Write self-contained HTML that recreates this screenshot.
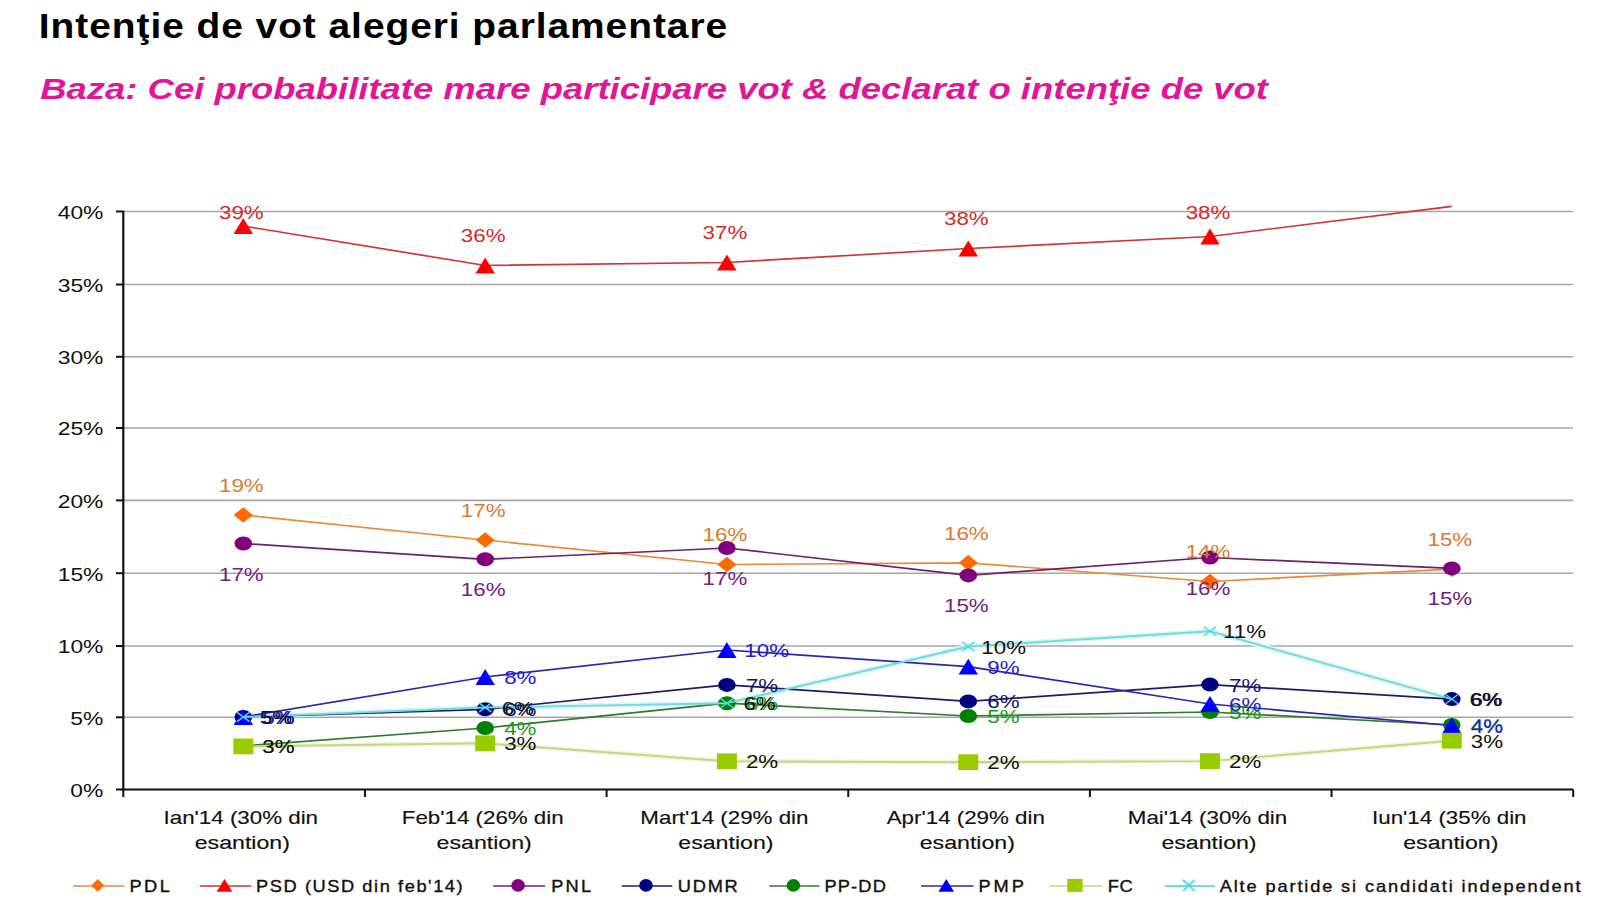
<!DOCTYPE html>
<html><head><meta charset="utf-8"><title>Intenţie de vot alegeri parlamentare</title>
<style>
html,body{margin:0;padding:0;background:#fff;}
body{width:1600px;height:900px;overflow:hidden;}
svg{display:block;font-family:'Liberation Sans', Arial, sans-serif;}
</style></head><body>
<svg width="1600" height="900" viewBox="0 0 1600 900">
<rect width="1600" height="900" fill="#fff"/>
<text transform="translate(38.80,38.40) scale(1.1340,1)" font-size="34.3" text-anchor="start" font-weight="bold" font-style="normal" fill="#000" textLength="607.0" lengthAdjust="spacing">Intenţie de vot alegeri parlamentare</text>
<text transform="translate(40.20,98.70) scale(1.2080,1)" font-size="30.2" text-anchor="start" font-weight="bold" font-style="italic" fill="#E01598">Baza: Cei probabilitate mare participare vot &amp; declarat o intenţie de vot</text>
<line x1="123.3" y1="717.30" x2="1573.2" y2="717.30" stroke="#a6a6a6" stroke-width="1.6"/>
<line x1="123.3" y1="646.00" x2="1573.2" y2="646.00" stroke="#a6a6a6" stroke-width="1.6"/>
<line x1="123.3" y1="573.20" x2="1573.2" y2="573.20" stroke="#a6a6a6" stroke-width="1.6"/>
<line x1="123.3" y1="500.40" x2="1573.2" y2="500.40" stroke="#a6a6a6" stroke-width="1.6"/>
<line x1="123.3" y1="428.00" x2="1573.2" y2="428.00" stroke="#a6a6a6" stroke-width="1.6"/>
<line x1="123.3" y1="356.80" x2="1573.2" y2="356.80" stroke="#a6a6a6" stroke-width="1.6"/>
<line x1="123.3" y1="284.50" x2="1573.2" y2="284.50" stroke="#a6a6a6" stroke-width="1.6"/>
<line x1="123.3" y1="211.50" x2="1573.2" y2="211.50" stroke="#a6a6a6" stroke-width="1.6"/>
<line x1="123.3" y1="210.7" x2="123.3" y2="790.5" stroke="#111" stroke-width="2.2"/>
<line x1="116" y1="789.50" x2="123.3" y2="789.50" stroke="#111" stroke-width="2"/>
<text transform="translate(103.40,796.90) scale(1.2700,1)" font-size="18" text-anchor="end" font-weight="normal" font-style="normal" fill="#111">0%</text>
<line x1="116" y1="717.30" x2="123.3" y2="717.30" stroke="#111" stroke-width="2"/>
<text transform="translate(103.40,724.70) scale(1.2700,1)" font-size="18" text-anchor="end" font-weight="normal" font-style="normal" fill="#111">5%</text>
<line x1="116" y1="646.00" x2="123.3" y2="646.00" stroke="#111" stroke-width="2"/>
<text transform="translate(103.40,653.40) scale(1.2700,1)" font-size="18" text-anchor="end" font-weight="normal" font-style="normal" fill="#111">10%</text>
<line x1="116" y1="573.20" x2="123.3" y2="573.20" stroke="#111" stroke-width="2"/>
<text transform="translate(103.40,580.60) scale(1.2700,1)" font-size="18" text-anchor="end" font-weight="normal" font-style="normal" fill="#111">15%</text>
<line x1="116" y1="500.40" x2="123.3" y2="500.40" stroke="#111" stroke-width="2"/>
<text transform="translate(103.40,507.80) scale(1.2700,1)" font-size="18" text-anchor="end" font-weight="normal" font-style="normal" fill="#111">20%</text>
<line x1="116" y1="428.00" x2="123.3" y2="428.00" stroke="#111" stroke-width="2"/>
<text transform="translate(103.40,435.40) scale(1.2700,1)" font-size="18" text-anchor="end" font-weight="normal" font-style="normal" fill="#111">25%</text>
<line x1="116" y1="356.80" x2="123.3" y2="356.80" stroke="#111" stroke-width="2"/>
<text transform="translate(103.40,364.20) scale(1.2700,1)" font-size="18" text-anchor="end" font-weight="normal" font-style="normal" fill="#111">30%</text>
<line x1="116" y1="284.50" x2="123.3" y2="284.50" stroke="#111" stroke-width="2"/>
<text transform="translate(103.40,291.90) scale(1.2700,1)" font-size="18" text-anchor="end" font-weight="normal" font-style="normal" fill="#111">35%</text>
<line x1="116" y1="211.50" x2="123.3" y2="211.50" stroke="#111" stroke-width="2"/>
<text transform="translate(103.40,218.90) scale(1.2700,1)" font-size="18" text-anchor="end" font-weight="normal" font-style="normal" fill="#111">40%</text>
<line x1="122.3" y1="789.5" x2="1573.2" y2="789.5" stroke="#111" stroke-width="2.2"/>
<line x1="123.30" y1="789.5" x2="123.30" y2="797" stroke="#111" stroke-width="2"/>
<line x1="364.95" y1="789.5" x2="364.95" y2="797" stroke="#111" stroke-width="2"/>
<line x1="606.60" y1="789.5" x2="606.60" y2="797" stroke="#111" stroke-width="2"/>
<line x1="848.25" y1="789.5" x2="848.25" y2="797" stroke="#111" stroke-width="2"/>
<line x1="1089.90" y1="789.5" x2="1089.90" y2="797" stroke="#111" stroke-width="2"/>
<line x1="1331.55" y1="789.5" x2="1331.55" y2="797" stroke="#111" stroke-width="2"/>
<line x1="1573.20" y1="789.5" x2="1573.20" y2="797" stroke="#111" stroke-width="2"/>
<text transform="translate(240.80,824.40) scale(1.2550,1)" font-size="17.8" text-anchor="middle" font-weight="normal" font-style="normal" fill="#111" stroke="#111" stroke-width="0.15">Ian&#x27;14 (30% din</text>
<text transform="translate(242.30,849.00) scale(1.3150,1)" font-size="17.6" text-anchor="middle" font-weight="normal" font-style="normal" fill="#111" stroke="#111" stroke-width="0.15">esantion)</text>
<text transform="translate(482.70,824.40) scale(1.2550,1)" font-size="17.8" text-anchor="middle" font-weight="normal" font-style="normal" fill="#111" stroke="#111" stroke-width="0.15">Feb&#x27;14 (26% din</text>
<text transform="translate(484.20,849.00) scale(1.3150,1)" font-size="17.6" text-anchor="middle" font-weight="normal" font-style="normal" fill="#111" stroke="#111" stroke-width="0.15">esantion)</text>
<text transform="translate(724.40,824.40) scale(1.2550,1)" font-size="17.8" text-anchor="middle" font-weight="normal" font-style="normal" fill="#111" stroke="#111" stroke-width="0.15">Mart&#x27;14 (29% din</text>
<text transform="translate(725.90,849.00) scale(1.3150,1)" font-size="17.6" text-anchor="middle" font-weight="normal" font-style="normal" fill="#111" stroke="#111" stroke-width="0.15">esantion)</text>
<text transform="translate(965.80,824.40) scale(1.2550,1)" font-size="17.8" text-anchor="middle" font-weight="normal" font-style="normal" fill="#111" stroke="#111" stroke-width="0.15">Apr&#x27;14 (29% din</text>
<text transform="translate(967.30,849.00) scale(1.3150,1)" font-size="17.6" text-anchor="middle" font-weight="normal" font-style="normal" fill="#111" stroke="#111" stroke-width="0.15">esantion)</text>
<text transform="translate(1207.50,824.40) scale(1.2550,1)" font-size="17.8" text-anchor="middle" font-weight="normal" font-style="normal" fill="#111" stroke="#111" stroke-width="0.15">Mai&#x27;14 (30% din</text>
<text transform="translate(1209.00,849.00) scale(1.3150,1)" font-size="17.6" text-anchor="middle" font-weight="normal" font-style="normal" fill="#111" stroke="#111" stroke-width="0.15">esantion)</text>
<text transform="translate(1449.30,824.40) scale(1.2550,1)" font-size="17.8" text-anchor="middle" font-weight="normal" font-style="normal" fill="#111" stroke="#111" stroke-width="0.15">Iun&#x27;14 (35% din</text>
<text transform="translate(1450.80,849.00) scale(1.3150,1)" font-size="17.6" text-anchor="middle" font-weight="normal" font-style="normal" fill="#111" stroke="#111" stroke-width="0.15">esantion)</text>
<polyline points="243.30,746.40 485.20,743.30 726.90,761.30 968.30,762.20 1210.00,761.10 1451.80,740.70" fill="none" stroke="#f1f8d8" stroke-width="5" stroke-linejoin="round"/>
<polyline points="243.30,717.00 485.20,707.50 726.90,703.20 968.30,646.50 1210.00,631.20 1451.80,699.10" fill="none" stroke="#d6f8f8" stroke-width="5" stroke-linejoin="round"/>
<polyline points="243.30,515.00 485.20,540.00 726.90,564.50 968.30,562.80 1210.00,581.50 1451.80,569.20" fill="none" stroke="#e8893c" stroke-width="1.7" stroke-linejoin="round"/>
<polygon points="233.70,515.00 243.30,507.20 252.90,515.00 243.30,522.80" fill="#FF6A00"/>
<polygon points="475.60,540.00 485.20,532.20 494.80,540.00 485.20,547.80" fill="#FF6A00"/>
<polygon points="717.30,564.50 726.90,556.70 736.50,564.50 726.90,572.30" fill="#FF6A00"/>
<polygon points="958.70,562.80 968.30,555.00 977.90,562.80 968.30,570.60" fill="#FF6A00"/>
<polygon points="1200.40,581.50 1210.00,573.70 1219.60,581.50 1210.00,589.30" fill="#FF6A00"/>
<polygon points="1442.20,569.20 1451.80,561.40 1461.40,569.20 1451.80,577.00" fill="#FF6A00"/>
<polyline points="243.30,226.00 485.20,265.50 726.90,262.50 968.30,248.50 1210.00,236.50 1451.80,206.30" fill="none" stroke="#d03434" stroke-width="1.7" stroke-linejoin="round"/>
<polygon points="233.60,233.90 243.30,218.10 253.00,233.90" fill="#FF0000"/>
<polygon points="475.50,273.40 485.20,257.60 494.90,273.40" fill="#FF0000"/>
<polygon points="717.20,270.40 726.90,254.60 736.60,270.40" fill="#FF0000"/>
<polygon points="958.60,256.40 968.30,240.60 978.00,256.40" fill="#FF0000"/>
<polygon points="1200.30,244.40 1210.00,228.60 1219.70,244.40" fill="#FF0000"/>
<polyline points="243.30,543.50 485.20,559.30 726.90,548.00 968.30,575.40 1210.00,557.50 1451.80,568.40" fill="none" stroke="#6a226a" stroke-width="1.7" stroke-linejoin="round"/>
<ellipse cx="243.30" cy="543.50" rx="8.80" ry="7.00" fill="#800080"/>
<ellipse cx="485.20" cy="559.30" rx="8.80" ry="7.00" fill="#800080"/>
<ellipse cx="726.90" cy="548.00" rx="8.80" ry="7.00" fill="#800080"/>
<ellipse cx="968.30" cy="575.40" rx="8.80" ry="7.00" fill="#800080"/>
<ellipse cx="1210.00" cy="557.50" rx="8.80" ry="7.00" fill="#800080"/>
<ellipse cx="1451.80" cy="568.40" rx="8.80" ry="7.00" fill="#800080"/>
<polyline points="243.30,717.00 485.20,709.30 726.90,684.90 968.30,701.40 1210.00,684.60 1451.80,699.10" fill="none" stroke="#1c1c66" stroke-width="1.7" stroke-linejoin="round"/>
<ellipse cx="243.30" cy="717.00" rx="8.80" ry="7.00" fill="#000080"/>
<ellipse cx="485.20" cy="709.30" rx="8.80" ry="7.00" fill="#000080"/>
<ellipse cx="726.90" cy="684.90" rx="8.80" ry="7.00" fill="#000080"/>
<ellipse cx="968.30" cy="701.40" rx="8.80" ry="7.00" fill="#000080"/>
<ellipse cx="1210.00" cy="684.60" rx="8.80" ry="7.00" fill="#000080"/>
<ellipse cx="1451.80" cy="699.10" rx="8.80" ry="7.00" fill="#000080"/>
<polyline points="243.30,746.00 485.20,728.00 726.90,703.20 968.30,716.00 1210.00,712.00 1451.80,725.00" fill="none" stroke="#2f7a2f" stroke-width="1.7" stroke-linejoin="round"/>
<ellipse cx="243.30" cy="746.00" rx="8.80" ry="7.00" fill="#008000"/>
<ellipse cx="485.20" cy="728.00" rx="8.80" ry="7.00" fill="#008000"/>
<ellipse cx="726.90" cy="703.20" rx="8.80" ry="7.00" fill="#008000"/>
<ellipse cx="968.30" cy="716.00" rx="8.80" ry="7.00" fill="#008000"/>
<ellipse cx="1210.00" cy="712.00" rx="8.80" ry="7.00" fill="#008000"/>
<ellipse cx="1451.80" cy="725.00" rx="8.80" ry="7.00" fill="#008000"/>
<polyline points="243.30,717.00 485.20,677.00 726.90,650.00 968.30,666.70 1210.00,704.00 1451.80,725.50" fill="none" stroke="#2828a8" stroke-width="1.7" stroke-linejoin="round"/>
<polygon points="233.60,724.90 243.30,709.10 253.00,724.90" fill="#0000FF"/>
<polygon points="475.50,684.90 485.20,669.10 494.90,684.90" fill="#0000FF"/>
<polygon points="717.20,657.90 726.90,642.10 736.60,657.90" fill="#0000FF"/>
<polygon points="958.60,674.60 968.30,658.80 978.00,674.60" fill="#0000FF"/>
<polygon points="1200.30,711.90 1210.00,696.10 1219.70,711.90" fill="#0000FF"/>
<polygon points="1442.10,733.40 1451.80,717.60 1461.50,733.40" fill="#0000FF"/>
<polyline points="243.30,746.40 485.20,743.30 726.90,761.30 968.30,762.20 1210.00,761.10 1451.80,740.70" fill="none" stroke="#c2d68a" stroke-width="1.9" stroke-linejoin="round"/>
<rect x="233.30" y="738.50" width="20.00" height="15.80" fill="#99CC00"/>
<rect x="475.20" y="735.40" width="20.00" height="15.80" fill="#99CC00"/>
<rect x="716.90" y="753.40" width="20.00" height="15.80" fill="#99CC00"/>
<rect x="958.30" y="754.30" width="20.00" height="15.80" fill="#99CC00"/>
<rect x="1200.00" y="753.20" width="20.00" height="15.80" fill="#99CC00"/>
<rect x="1441.80" y="732.80" width="20.00" height="15.80" fill="#99CC00"/>
<polyline points="243.30,717.00 485.20,707.50 726.90,703.20 968.30,646.50 1210.00,631.20 1451.80,699.10" fill="none" stroke="#78d8dc" stroke-width="1.9" stroke-linejoin="round"/>
<path d="M237.10,712.40L249.50,721.60M237.10,721.60L249.50,712.40" stroke="#45dfe8" stroke-width="1.4" fill="none"/>
<path d="M479.00,702.90L491.40,712.10M479.00,712.10L491.40,702.90" stroke="#45dfe8" stroke-width="1.4" fill="none"/>
<path d="M720.70,698.60L733.10,707.80M720.70,707.80L733.10,698.60" stroke="#45dfe8" stroke-width="1.4" fill="none"/>
<path d="M962.10,641.90L974.50,651.10M962.10,651.10L974.50,641.90" stroke="#45dfe8" stroke-width="1.4" fill="none"/>
<path d="M1203.80,626.60L1216.20,635.80M1203.80,635.80L1216.20,626.60" stroke="#45dfe8" stroke-width="1.4" fill="none"/>
<path d="M1445.60,694.50L1458.00,703.70M1445.60,703.70L1458.00,694.50" stroke="#45dfe8" stroke-width="1.4" fill="none"/>
<text transform="translate(241.30,491.72) scale(1.2200,1)" font-size="18.3" text-anchor="middle" font-weight="normal" font-style="normal" fill="#d87a30">19%</text>
<text transform="translate(483.20,516.72) scale(1.2200,1)" font-size="18.3" text-anchor="middle" font-weight="normal" font-style="normal" fill="#d87a30">17%</text>
<text transform="translate(724.90,541.22) scale(1.2200,1)" font-size="18.3" text-anchor="middle" font-weight="normal" font-style="normal" fill="#d87a30">16%</text>
<text transform="translate(966.30,539.52) scale(1.2200,1)" font-size="18.3" text-anchor="middle" font-weight="normal" font-style="normal" fill="#d87a30">16%</text>
<text transform="translate(1208.00,558.22) scale(1.2200,1)" font-size="18.3" text-anchor="middle" font-weight="normal" font-style="normal" fill="#d87a30">14%</text>
<text transform="translate(1449.80,545.92) scale(1.2200,1)" font-size="18.3" text-anchor="middle" font-weight="normal" font-style="normal" fill="#d87a30">15%</text>
<text transform="translate(241.30,218.72) scale(1.2200,1)" font-size="18.3" text-anchor="middle" font-weight="normal" font-style="normal" fill="#D42A2A">39%</text>
<text transform="translate(483.20,242.22) scale(1.2200,1)" font-size="18.3" text-anchor="middle" font-weight="normal" font-style="normal" fill="#D42A2A">36%</text>
<text transform="translate(724.90,239.32) scale(1.2200,1)" font-size="18.3" text-anchor="middle" font-weight="normal" font-style="normal" fill="#D42A2A">37%</text>
<text transform="translate(966.30,224.92) scale(1.2200,1)" font-size="18.3" text-anchor="middle" font-weight="normal" font-style="normal" fill="#D42A2A">38%</text>
<text transform="translate(1208.00,218.72) scale(1.2200,1)" font-size="18.3" text-anchor="middle" font-weight="normal" font-style="normal" fill="#D42A2A">38%</text>
<text transform="translate(241.30,580.52) scale(1.2200,1)" font-size="18.3" text-anchor="middle" font-weight="normal" font-style="normal" fill="#742080">17%</text>
<text transform="translate(483.20,596.32) scale(1.2200,1)" font-size="18.3" text-anchor="middle" font-weight="normal" font-style="normal" fill="#742080">16%</text>
<text transform="translate(724.90,585.02) scale(1.2200,1)" font-size="18.3" text-anchor="middle" font-weight="normal" font-style="normal" fill="#742080">17%</text>
<text transform="translate(966.30,612.42) scale(1.2200,1)" font-size="18.3" text-anchor="middle" font-weight="normal" font-style="normal" fill="#742080">15%</text>
<text transform="translate(1208.00,594.52) scale(1.2200,1)" font-size="18.3" text-anchor="middle" font-weight="normal" font-style="normal" fill="#742080">16%</text>
<text transform="translate(1449.80,605.42) scale(1.2200,1)" font-size="18.3" text-anchor="middle" font-weight="normal" font-style="normal" fill="#742080">15%</text>
<text transform="translate(262.30,724.02) scale(1.2200,1)" font-size="18.3" text-anchor="start" font-weight="normal" font-style="normal" fill="#141470">5%</text>
<text transform="translate(504.20,716.32) scale(1.2200,1)" font-size="18.3" text-anchor="start" font-weight="normal" font-style="normal" fill="#141470">6%</text>
<text transform="translate(745.90,691.92) scale(1.2200,1)" font-size="18.3" text-anchor="start" font-weight="normal" font-style="normal" fill="#141470">7%</text>
<text transform="translate(987.30,708.42) scale(1.2200,1)" font-size="18.3" text-anchor="start" font-weight="normal" font-style="normal" fill="#141470">6%</text>
<text transform="translate(1229.00,691.62) scale(1.2200,1)" font-size="18.3" text-anchor="start" font-weight="normal" font-style="normal" fill="#141470">7%</text>
<text transform="translate(1470.40,706.12) scale(1.2200,1)" font-size="18.3" text-anchor="start" font-weight="normal" font-style="normal" fill="#141470">6%</text>
<text transform="translate(262.30,753.02) scale(1.2200,1)" font-size="18.3" text-anchor="start" font-weight="normal" font-style="normal" fill="#1A9A1A">3%</text>
<text transform="translate(504.20,735.02) scale(1.2200,1)" font-size="18.3" text-anchor="start" font-weight="normal" font-style="normal" fill="#1A9A1A">4%</text>
<text transform="translate(745.90,710.22) scale(1.2200,1)" font-size="18.3" text-anchor="start" font-weight="normal" font-style="normal" fill="#1A9A1A">6%</text>
<text transform="translate(987.30,723.02) scale(1.2200,1)" font-size="18.3" text-anchor="start" font-weight="normal" font-style="normal" fill="#1A9A1A">5%</text>
<text transform="translate(1229.00,719.02) scale(1.2200,1)" font-size="18.3" text-anchor="start" font-weight="normal" font-style="normal" fill="#1A9A1A">5%</text>
<text transform="translate(1470.80,732.02) scale(1.2200,1)" font-size="18.3" text-anchor="start" font-weight="normal" font-style="normal" fill="#1A9A1A">4%</text>
<text transform="translate(262.30,724.02) scale(1.2200,1)" font-size="18.3" text-anchor="start" font-weight="normal" font-style="normal" fill="#2020D0">5%</text>
<text transform="translate(504.20,684.02) scale(1.2200,1)" font-size="18.3" text-anchor="start" font-weight="normal" font-style="normal" fill="#2020D0">8%</text>
<text transform="translate(744.30,657.02) scale(1.2200,1)" font-size="18.3" text-anchor="start" font-weight="normal" font-style="normal" fill="#2020D0">10%</text>
<text transform="translate(987.30,673.72) scale(1.2200,1)" font-size="18.3" text-anchor="start" font-weight="normal" font-style="normal" fill="#2020D0">9%</text>
<text transform="translate(1229.00,711.02) scale(1.2200,1)" font-size="18.3" text-anchor="start" font-weight="normal" font-style="normal" fill="#2020D0">6%</text>
<text transform="translate(1470.80,732.52) scale(1.2200,1)" font-size="18.3" text-anchor="start" font-weight="normal" font-style="normal" fill="#2020D0">4%</text>
<text transform="translate(262.30,753.42) scale(1.2200,1)" font-size="18.3" text-anchor="start" font-weight="normal" font-style="normal" fill="#111">3%</text>
<text transform="translate(504.20,750.32) scale(1.2200,1)" font-size="18.3" text-anchor="start" font-weight="normal" font-style="normal" fill="#111">3%</text>
<text transform="translate(745.90,768.32) scale(1.2200,1)" font-size="18.3" text-anchor="start" font-weight="normal" font-style="normal" fill="#111">2%</text>
<text transform="translate(987.30,769.22) scale(1.2200,1)" font-size="18.3" text-anchor="start" font-weight="normal" font-style="normal" fill="#111">2%</text>
<text transform="translate(1229.00,768.12) scale(1.2200,1)" font-size="18.3" text-anchor="start" font-weight="normal" font-style="normal" fill="#111">2%</text>
<text transform="translate(1470.80,747.72) scale(1.2200,1)" font-size="18.3" text-anchor="start" font-weight="normal" font-style="normal" fill="#111">3%</text>
<text transform="translate(259.80,724.02) scale(1.2200,1)" font-size="18.3" text-anchor="start" font-weight="normal" font-style="normal" fill="#111">5%</text>
<text transform="translate(501.70,714.52) scale(1.2200,1)" font-size="18.3" text-anchor="start" font-weight="normal" font-style="normal" fill="#111">6%</text>
<text transform="translate(743.40,710.22) scale(1.2200,1)" font-size="18.3" text-anchor="start" font-weight="normal" font-style="normal" fill="#111">6%</text>
<text transform="translate(981.30,653.52) scale(1.2200,1)" font-size="18.3" text-anchor="start" font-weight="normal" font-style="normal" fill="#111">10%</text>
<text transform="translate(1223.00,638.22) scale(1.2200,1)" font-size="18.3" text-anchor="start" font-weight="normal" font-style="normal" fill="#111">11%</text>
<text transform="translate(1469.40,706.12) scale(1.2200,1)" font-size="18.3" text-anchor="start" font-weight="normal" font-style="normal" fill="#111">6%</text>
<line x1="73.1" y1="886.0" x2="124.4" y2="886.0" stroke="#e8893c" stroke-width="1.6"/>
<polygon points="91.35,885.40 97.75,879.00 104.15,885.40 97.75,891.80" fill="#FF6A00"/>
<text transform="translate(129.50,891.60) scale(1.1400,1)" font-size="16" text-anchor="start" font-weight="normal" font-style="normal" fill="#111" textLength="35.4" lengthAdjust="spacing" stroke="#111" stroke-width="0.35">PDL</text>
<line x1="199.7" y1="886.0" x2="251.3" y2="886.0" stroke="#d03434" stroke-width="1.6"/>
<polygon points="216.70,891.70 224.50,879.10 232.30,891.70" fill="#FF0000"/>
<text transform="translate(256.10,891.60) scale(1.1400,1)" font-size="16" text-anchor="start" font-weight="normal" font-style="normal" fill="#111" textLength="181.2" lengthAdjust="spacing" stroke="#111" stroke-width="0.35">PSD (USD din feb&#x27;14)</text>
<line x1="493.2" y1="886.0" x2="545" y2="886.0" stroke="#6a226a" stroke-width="1.6"/>
<ellipse cx="518.10" cy="885.40" rx="6.80" ry="6.30" fill="#800080"/>
<text transform="translate(551.20,891.60) scale(1.1400,1)" font-size="16" text-anchor="start" font-weight="normal" font-style="normal" fill="#111" textLength="35.1" lengthAdjust="spacing" stroke="#111" stroke-width="0.35">PNL</text>
<line x1="621.7" y1="886.0" x2="672.3" y2="886.0" stroke="#1c1c66" stroke-width="1.6"/>
<ellipse cx="646.00" cy="885.40" rx="6.80" ry="6.30" fill="#000080"/>
<text transform="translate(677.80,891.60) scale(1.1400,1)" font-size="16" text-anchor="start" font-weight="normal" font-style="normal" fill="#111" textLength="52.6" lengthAdjust="spacing" stroke="#111" stroke-width="0.35">UDMR</text>
<line x1="769.2" y1="886.0" x2="819.5" y2="886.0" stroke="#2f7a2f" stroke-width="1.6"/>
<ellipse cx="793.35" cy="885.40" rx="6.80" ry="6.30" fill="#008000"/>
<text transform="translate(824.50,891.60) scale(1.1400,1)" font-size="16" text-anchor="start" font-weight="normal" font-style="normal" fill="#111" textLength="53.8" lengthAdjust="spacing" stroke="#111" stroke-width="0.35">PP-DD</text>
<line x1="921.1" y1="886.0" x2="973.4" y2="886.0" stroke="#2828a8" stroke-width="1.6"/>
<polygon points="938.45,891.70 946.25,879.10 954.05,891.70" fill="#0000FF"/>
<text transform="translate(978.40,891.60) scale(1.1400,1)" font-size="16" text-anchor="start" font-weight="normal" font-style="normal" fill="#111" textLength="40.0" lengthAdjust="spacing" stroke="#111" stroke-width="0.35">PMP</text>
<line x1="1049.6" y1="886.0" x2="1102.3" y2="886.0" stroke="#c2d68a" stroke-width="1.6"/>
<rect x="1067.25" y="878.90" width="15.40" height="13.00" fill="#99CC00"/>
<text transform="translate(1107.80,891.60) scale(1.1400,1)" font-size="16" text-anchor="start" font-weight="normal" font-style="normal" fill="#111" textLength="21.8" lengthAdjust="spacing" stroke="#111" stroke-width="0.35">FC</text>
<line x1="1164.6" y1="886.0" x2="1215" y2="886.0" stroke="#78d8dc" stroke-width="2.2"/>
<path d="M1183.00,880.00L1194.60,890.80M1183.00,890.80L1194.60,880.00" stroke="#45dfe8" stroke-width="1.8" fill="none"/>
<text transform="translate(1219.70,891.60) scale(1.1400,1)" font-size="16" text-anchor="start" font-weight="normal" font-style="normal" fill="#111" textLength="316.5" lengthAdjust="spacing" stroke="#111" stroke-width="0.35">Alte partide si candidati independent</text>
</svg>
</body></html>
